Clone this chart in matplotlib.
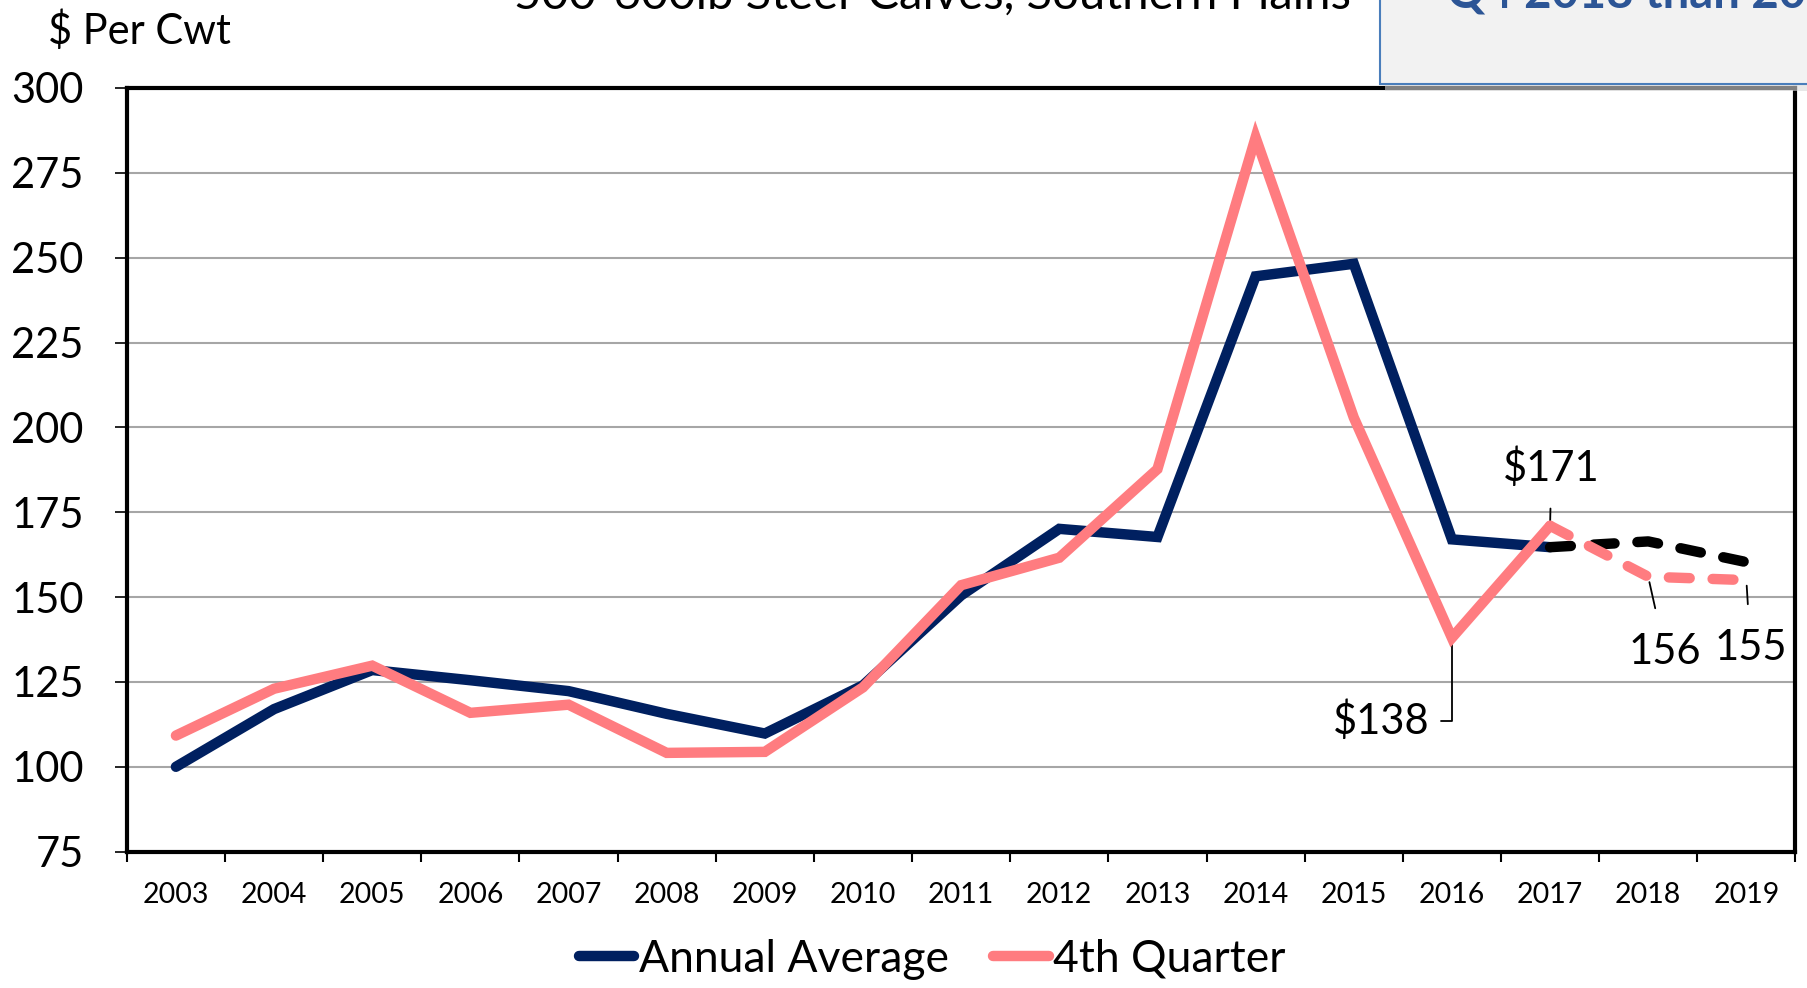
import matplotlib
import matplotlib.pyplot as plt
from matplotlib.patches import Rectangle

matplotlib.rcParams.update({
    'figure.facecolor': 'w',
    'font.family': ['Lato', 'DejaVu Sans'],
})

years = ['2003', '2004', '2005', '2006', '2007', '2008', '2009', '2010',
         '2011', '2012', '2013', '2014', '2015', '2016', '2017', '2018',
         '2019']

# observed through 2017
annual_avg = [100.0, 117.0, 128.5, 125.5, 122.3, 115.6, 109.8, 124.0,
              150.5, 170.1, 167.7, 244.5, 248.2, 167.0, 164.7]
q4 = [109.2, 123.0, 129.8, 115.9, 118.3, 104.1, 104.4, 123.4,
      153.5, 161.6, 187.7, 285.4, 202.9, 138.0, 171.0]

# projections 2017-2019
annual_fcst = [164.7, 166.4, 160.3]
q4_fcst = [171.0, 156.0, 155.0]

NAVY = '#002060'
PINK = '#ff7c80'

fig = plt.figure(figsize=(18.07, 9.88), dpi=100)
ax = fig.add_axes([0.0702, 0.138, 0.9234, 0.773])

x_obs = list(range(len(annual_avg)))
x_fc = list(range(len(annual_avg) - 1, len(years)))

lw = 7.5
ax.plot(x_obs, annual_avg, color=NAVY, lw=lw, solid_capstyle='round',
        solid_joinstyle='miter', label='Annual Average', zorder=3)
ax.plot(x_fc, annual_fcst, color='black', lw=lw, dashes=(2.0, 2.2),
        dash_capstyle='round', zorder=4)
ax.plot(x_obs, q4, color=PINK, lw=lw, solid_capstyle='round',
        solid_joinstyle='miter', label='4th Quarter', zorder=5)
ax.plot(x_fc, q4_fcst, color=PINK, lw=lw, dashes=(2.0, 2.2),
        dash_capstyle='round', zorder=6)

ax.set_xlim(-0.5, len(years) - 0.5)
ax.set_ylim(75, 300)
ax.set_yticks(range(75, 301, 25))
ax.set_xticks(range(len(years)))
ax.set_xticklabels(years)
ax.set_xticks([i - 0.5 for i in range(len(years) + 1)], minor=True)

ax.yaxis.grid(True, color='#a6a6a6', lw=1.5)
ax.set_axisbelow(True)
for sp in ax.spines.values():
    sp.set_linewidth(3)
    sp.set_color('black')

ax.tick_params(axis='y', which='major', length=9, width=1.2, pad=22,
               labelsize=30)
ax.tick_params(axis='x', which='major', length=0, pad=22, labelsize=20.5)
ax.tick_params(axis='x', which='minor', length=7, width=1.5)

ann_font = 30
leader = dict(arrowstyle='-', color='black', lw=1.3)

ax.annotate('$171', xy=(14, 171.0), xytext=(1, 42),
            textcoords='offset points', ha='center', va='center',
            fontsize=ann_font,
            arrowprops=dict(leader, shrinkA=13, shrinkB=2))
ax.annotate('$138', xy=(13, 138.0), xytext=(-16, -60),
            textcoords='offset points', ha='right', va='center',
            fontsize=ann_font,
            arrowprops=dict(leader, relpos=(1, 0.5), shrinkA=6, shrinkB=2,
                            connectionstyle='angle,angleA=0,angleB=90,rad=0'))
ax.annotate('156', xy=(15, 156.0), xytext=(12, -54),
            textcoords='offset points', ha='center', va='center',
            fontsize=ann_font,
            arrowprops=dict(leader, shrinkA=16, shrinkB=4))
ax.annotate('155', xy=(16, 155.0), xytext=(3, -49),
            textcoords='offset points', ha='center', va='center',
            fontsize=ann_font,
            arrowprops=dict(leader, shrinkA=16, shrinkB=4))

fig.text(0.0268, 0.9686, '$ Per Cwt', fontsize=30, ha='left', va='center')
fig.text(0.516, 0.991, '500-600lb Steer Calves, Southern Plains',
         fontsize=34, ha='center', va='baseline')

# callout box cut off at the top right
fig.patches.append(Rectangle((0.7665, 0.908), 0.3, 0.2,
                             transform=fig.transFigure, facecolor='#d9d9d9',
                             edgecolor='none', alpha=0.6, zorder=1))
fig.patches.append(Rectangle((0.7637, 0.915), 0.3, 0.2,
                             transform=fig.transFigure, facecolor='#f2f2f2',
                             edgecolor='#4a7ebb', lw=1.5, zorder=2))
fig.text(0.8005, 0.992, 'Q4 2018 than 2017', fontsize=34,
         fontweight='bold', color='#2c5596', ha='left', va='baseline',
         zorder=3)

ax.legend(loc='center', bbox_to_anchor=(0.516, 0.029),
          bbox_transform=fig.transFigure, ncol=2, frameon=False,
          fontsize=32, handlelength=1.25, handletextpad=0.1,
          columnspacing=1.0)

fig.savefig('out.png', dpi=100)
